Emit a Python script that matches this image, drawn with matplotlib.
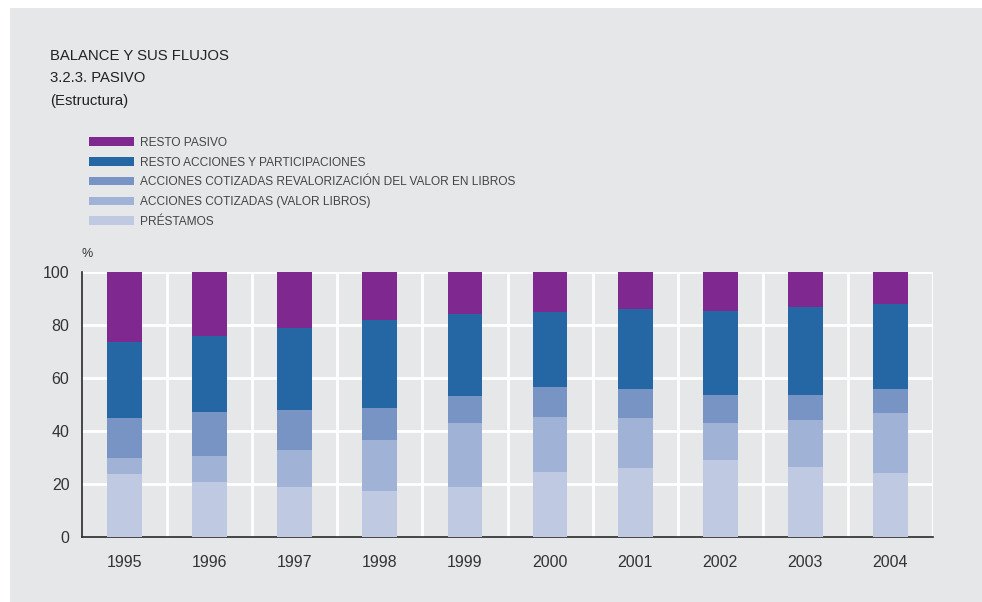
import numpy as np
import matplotlib.pyplot as plt
from matplotlib.patches import Rectangle

## Data (% structure of liabilities)
years = ['1995', '1996', '1997', '1998', '1999', '2000', '2001', '2002', '2003', '2004']
prestamos = [23.7, 20.7, 18.8, 17.3, 18.8, 24.4, 25.9, 29.0, 26.3, 24.1]
acc_cot_libros = [6.0, 9.8, 13.9, 19.2, 24.1, 20.8, 18.9, 13.9, 17.8, 22.6]
acc_cot_reval = [15.1, 16.6, 15.2, 12.1, 10.2, 11.3, 11.0, 10.6, 9.4, 9.1]
resto_acciones = [28.8, 28.7, 30.9, 33.3, 31.0, 28.4, 30.1, 31.8, 33.3, 32.1]
resto_pasivo = [26.4, 24.2, 21.2, 18.1, 15.9, 15.1, 14.1, 14.7, 13.2, 12.1]

labels = ['PRÉSTAMOS', 'ACCIONES COTIZADAS (VALOR LIBROS)',
          'ACCIONES COTIZADAS REVALORIZACIÓN DEL VALOR EN LIBROS',
          'RESTO ACCIONES Y PARTICIPACIONES', 'RESTO PASIVO']
colors = ['#bfcae2', '#a0b2d6', '#7894c4', '#2566a4', '#7f288f']
series = [prestamos, acc_cot_libros, acc_cot_reval, resto_acciones, resto_pasivo]

bg = '#e6e7e9'
txt = '#333333'
plt.rcParams['font.family'] = ['Liberation Sans', 'DejaVu Sans']

fig = plt.figure(figsize=(9.82, 6.02), dpi=100)
fig.patch.set_facecolor('white')
fig.add_artist(Rectangle((10 / 982, 0), 1, 1 - 8 / 602, transform=fig.transFigure,
                         facecolor=bg, edgecolor='none', zorder=-10))

ax = fig.add_axes([82 / 982, 1 - 537 / 602, 851 / 982, 265 / 602])
ax.set_facecolor(bg)

x = np.arange(len(years))
bottom = np.zeros(len(years))
for vals, c, lab in zip(series, colors, labels):
    ax.bar(x, vals, width=0.41, bottom=bottom, color=c, label=lab, zorder=3)
    bottom += np.array(vals)

ax.set_xlim(-0.5, len(years) - 0.5)
ax.set_ylim(0, 100)
ax.set_yticks([0, 20, 40, 60, 80, 100])
ax.set_xticks(x)
ax.set_xticklabels(years)
ax.tick_params(length=0, labelsize=11.5, colors=txt)
ax.tick_params(axis='y', pad=9)
ax.tick_params(axis='x', pad=13)

# white grid: horizontal at ticks, vertical between categories
for yv in [20, 40, 60, 80, 100]:
    ax.axhline(yv, color='white', lw=2, zorder=1)
for xv in np.arange(0.5, len(years), 1.0):
    ax.axvline(xv, color='white', lw=2, zorder=1)

for s in ['top', 'right']:
    ax.spines[s].set_visible(False)
for s in ['left', 'bottom']:
    ax.spines[s].set_color('#2a2a2a')
    ax.spines[s].set_linewidth(1.2)

ax.text(0.0, 1.045, '%', transform=ax.transAxes, fontsize=9, color=txt,
        ha='left', va='bottom')

fig.text(50 / 982, 1 - 56 / 602, 'BALANCE Y SUS FLUJOS', fontsize=10.7, color='#222222', va='center')
fig.text(50 / 982, 1 - 78 / 602, '3.2.3. PASIVO', fontsize=10.7, color='#222222', va='center')
fig.text(50 / 982, 1 - 101 / 602, '(Estructura)', fontsize=10.7, color='#222222', va='center')

# legend drawn as rows, top = RESTO PASIVO
handles, leg_labels = ax.get_legend_handles_labels()
leg = fig.legend(handles[::-1], leg_labels[::-1], loc='upper left',
                 bbox_to_anchor=(78 / 982, 1 - 126 / 602), frameon=False,
                 fontsize=8.6, handlelength=3.8, handleheight=0.75,
                 handletextpad=0.5, labelspacing=0.65, labelcolor='#444444')

plt.savefig('out.png', dpi=100, facecolor=fig.get_facecolor())
